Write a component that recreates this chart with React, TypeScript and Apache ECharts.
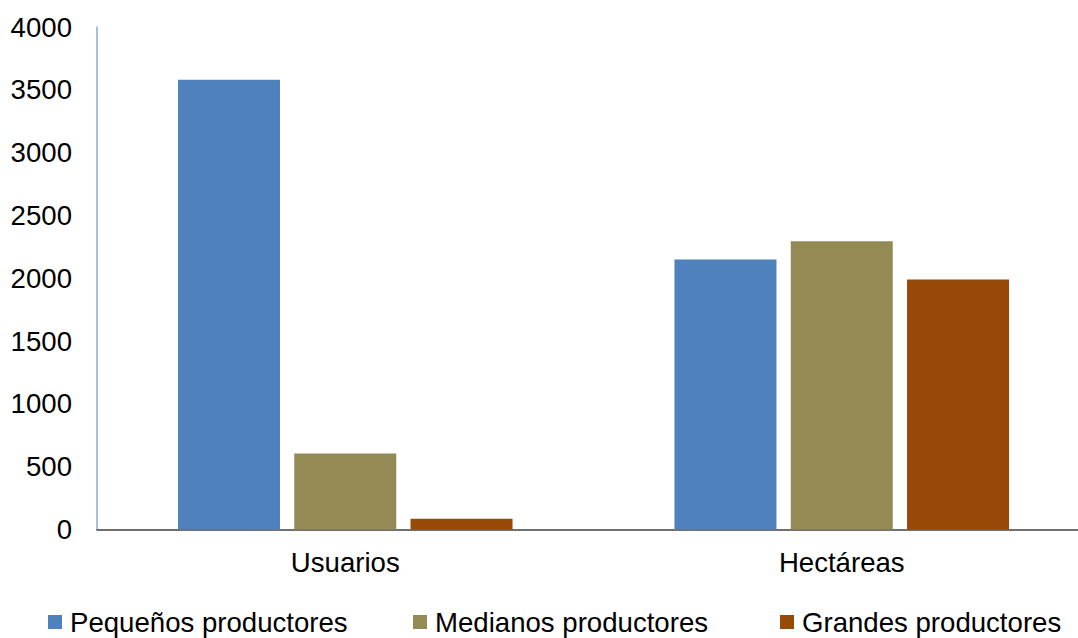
import React, { useEffect, useRef } from "react";
import * as echarts from "echarts";

// Grouped bars: users and hectares by producer size
const categories = ["Usuarios", "Hectáreas"];
const seriesNames = ["Pequeños productores", "Medianos productores", "Grandes productores"];
const pequenos = [3580, 2150];
const medianos = [605, 2295];
const grandes = [85, 1990];
const yTicks = { min: 0, max: 4000, interval: 500 };

const colors = ["#4F81BD", "#948A54", "#984807"];
const FONT = "'Liberation Sans', Arial, sans-serif";
const FONT_SIZE = 27.6;
// left edge of each legend entry
const legendLefts = [48, 413, 780];

export default function App() {
  const ref = useRef<HTMLDivElement>(null);

  useEffect(() => {
    if (!ref.current) return;
    const chart = echarts.init(ref.current, null, { renderer: "svg" });
    const values = [pequenos, medianos, grandes];
    chart.setOption({
      animation: false,
      backgroundColor: "#ffffff",
      textStyle: { fontFamily: FONT },
      grid: { left: 97, top: 27, width: 993, height: 502.5, outerBoundsMode: "none" },
      legend: seriesNames.map((name, i) => ({
        left: legendLefts[i],
        top: 608,
        padding: 0,
        itemWidth: 14,
        itemHeight: 14,
        icon: "rect",
        textStyle: { fontSize: FONT_SIZE, color: "#000", fontFamily: FONT, padding: [0, 0, 0, 3] },
        data: [name],
      })),
      xAxis: {
        type: "category",
        data: categories,
        axisLine: { show: true, lineStyle: { color: "#404040", width: 1.5 } },
        axisTick: { show: false },
        axisLabel: { fontSize: FONT_SIZE, color: "#000", fontFamily: FONT, margin: 19 },
      },
      yAxis: {
        type: "value",
        min: yTicks.min,
        max: yTicks.max,
        interval: yTicks.interval,
        axisLine: { show: true, lineStyle: { color: "#8CAAD4", width: 1.5 } },
        axisTick: { show: false },
        splitLine: { show: false },
        axisLabel: {
          fontSize: FONT_SIZE,
          color: "#000",
          fontFamily: FONT,
          margin: 25,
          formatter: (v: number) => String(v),
        },
      },
      series: seriesNames.map((name, i) => ({
        name,
        type: "bar",
        data: values[i],
        barWidth: 102,
        barGap: "14%",
        itemStyle: { color: colors[i] },
      })),
    });
    return () => chart.dispose();
  }, []);

  return (
    <div
      ref={ref}
      style={{ position: "absolute", left: 0, top: 0, width: 1078, height: 638 }}
    />
  );
}
